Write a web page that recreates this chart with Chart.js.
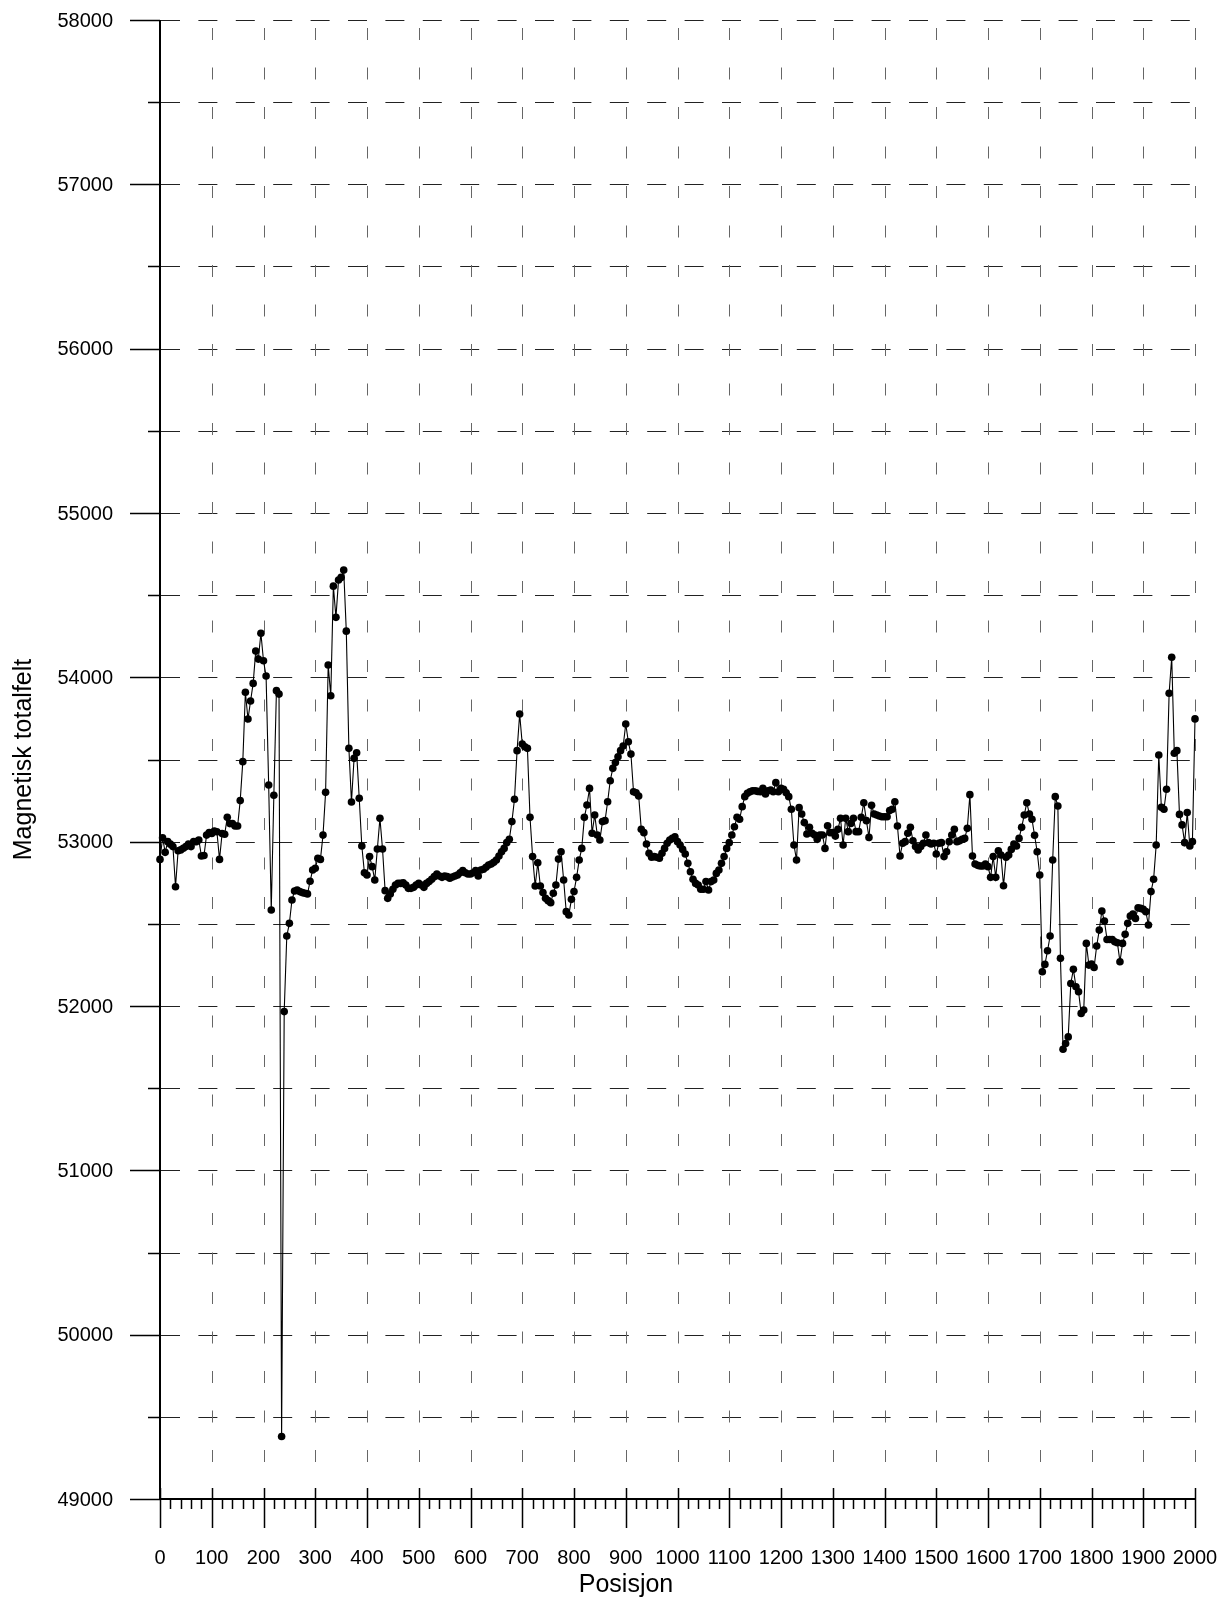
<!DOCTYPE html>
<html>
<head>
<meta charset="utf-8">
<title>Magnetisk totalfelt</title>
<script src="https://cdn.jsdelivr.net/npm/chart.js@4.4.1/dist/chart.umd.min.js"></script>
<style>
  html, body { margin: 0; padding: 0; background: #fff; }
  canvas { display: block; }
</style>
</head>
<body>
<canvas id="magChart" width="1230" height="1601"></canvas>
<script>
// Measurement positions (m)
const posisjon = [
  0, 5, 10, 15, 20, 25, 30, 35, 40, 45, 50, 55, 60, 65, 70, 75, 80, 85, 90, 95,
  100, 105, 110, 115, 120, 125, 130, 135, 140, 145, 150, 155, 160, 165, 170, 175, 180, 185, 190, 195,
  200, 205, 210, 215, 220, 225, 230, 235, 240, 245, 250, 255, 260, 265, 270, 275, 280, 285, 290, 295,
  300, 305, 310, 315, 320, 325, 330, 335, 340, 345, 350, 355, 360, 365, 370, 375, 380, 385, 390, 395,
  400, 405, 410, 415, 420, 425, 430, 435, 440, 445, 450, 455, 460, 465, 470, 475, 480, 485, 490, 495,
  500, 505, 510, 515, 520, 525, 530, 535, 540, 545, 550, 555, 560, 565, 570, 575, 580, 585, 590, 595,
  600, 605, 610, 615, 620, 625, 630, 635, 640, 645, 650, 655, 660, 665, 670, 675, 680, 685, 690, 695,
  700, 705, 710, 715, 720, 725, 730, 735, 740, 745, 750, 755, 760, 765, 770, 775, 780, 785, 790, 795,
  800, 805, 810, 815, 820, 825, 830, 835, 840, 845, 850, 855, 860, 865, 870, 875, 880, 885, 890, 895,
  900, 905, 910, 915, 920, 925, 930, 935, 940, 945, 950, 955, 960, 965, 970, 975, 980, 985, 990, 995,
  1000, 1005, 1010, 1015, 1020, 1025, 1030, 1035, 1040, 1045, 1050, 1055, 1060, 1065, 1070, 1075, 1080, 1085, 1090, 1095,
  1100, 1105, 1110, 1115, 1120, 1125, 1130, 1135, 1140, 1145, 1150, 1155, 1160, 1165, 1170, 1175, 1180, 1185, 1190, 1195,
  1200, 1205, 1210, 1215, 1220, 1225, 1230, 1235, 1240, 1245, 1250, 1255, 1260, 1265, 1270, 1275, 1280, 1285, 1290, 1295,
  1300, 1305, 1310, 1315, 1320, 1325, 1330, 1335, 1340, 1345, 1350, 1355, 1360, 1365, 1370, 1375, 1380, 1385, 1390, 1395,
  1400, 1405, 1410, 1415, 1420, 1425, 1430, 1435, 1440, 1445, 1450, 1455, 1460, 1465, 1470, 1475, 1480, 1485, 1490, 1495,
  1500, 1505, 1510, 1515, 1520, 1525, 1530, 1535, 1540, 1545, 1550, 1555, 1560, 1565, 1570, 1575, 1580, 1585, 1590, 1595,
  1600, 1605, 1610, 1615, 1620, 1625, 1630, 1635, 1640, 1645, 1650, 1655, 1660, 1665, 1670, 1675, 1680, 1685, 1690, 1695,
  1700, 1705, 1710, 1715, 1720, 1725, 1730, 1735, 1740, 1745, 1750, 1755, 1760, 1765, 1770, 1775, 1780, 1785, 1790, 1795,
  1800, 1805, 1810, 1815, 1820, 1825, 1830, 1835, 1840, 1845, 1850, 1855, 1860, 1865, 1870, 1875, 1880, 1885, 1890, 1895,
  1900, 1905, 1910, 1915, 1920, 1925, 1930, 1935, 1940, 1945, 1950, 1955, 1960, 1965, 1970, 1975, 1980, 1985, 1990, 1995,
  2000
];

// Total magnetic field (nT)
const totalfelt = [
  52892, 53024, 52935, 53000, 52985, 52970, 52726, 52945, 52950, 52960,
  52970, 52985, 52970, 53000, 53000, 53010, 52913, 52916, 53040, 53055,
  53050, 53065, 53060, 52892, 53050, 53045, 53148, 53110, 53110, 53095,
  53095, 53250, 53487, 53909, 53746, 53856, 53963, 54160, 54111, 54268,
  54101, 54008, 53345, 52584, 53282, 53919, 53898, 49380, 51966, 52426,
  52503, 52645, 52700, 52706, 52696, 52690, 52686, 52682, 52759, 52828,
  52838, 52899, 52892, 53040, 53300, 54075, 53888, 54555, 54365, 54592,
  54608, 54653, 54281, 53568, 53241, 53507, 53541, 53264, 52974, 52811,
  52797, 52909, 52848, 52767, 52955, 53142, 52955, 52702, 52655, 52682,
  52710, 52736, 52746, 52746, 52750, 52736, 52716, 52716, 52722, 52736,
  52746, 52736, 52722, 52746, 52757, 52771, 52787, 52803, 52791, 52783,
  52791, 52787, 52777, 52785, 52791, 52797, 52811, 52824, 52811, 52803,
  52803, 52811, 52824, 52791, 52828, 52832, 52844, 52858, 52864, 52874,
  52888, 52913, 52939, 52959, 52994, 53014, 53122, 53258, 53554, 53777,
  53594, 53578, 53568, 53148, 52909, 52730, 52872, 52730, 52690, 52655,
  52641, 52629, 52686, 52736, 52894, 52939, 52767, 52574, 52554, 52649,
  52696, 52783, 52888, 52959, 53148, 53223, 53324, 53051, 53162, 53041,
  53010, 53122, 53128, 53243, 53371, 53446, 53481, 53517, 53554, 53582,
  53716, 53608, 53533, 53304, 53298, 53278, 53075, 53055, 52986, 52929,
  52905, 52909, 52905, 52899, 52929, 52959, 52990, 53010, 53020, 53030,
  53000, 52980, 52953, 52925, 52868, 52817, 52771, 52746, 52736, 52710,
  52710, 52757, 52706, 52757, 52767, 52807, 52828, 52868, 52909, 52959,
  52994, 53041, 53091, 53148, 53136, 53213, 53274, 53294, 53304, 53310,
  53310, 53306, 53304, 53324, 53290, 53310, 53314, 53304, 53359, 53304,
  53324, 53318, 53298, 53274, 53197, 52980, 52888, 53207, 53168, 53116,
  53047, 53087, 53051, 53041, 53014, 53041, 53041, 52959, 53097, 53055,
  53055, 53034, 53075, 53142, 52980, 53142, 53061, 53111, 53142, 53061,
  53061, 53148, 53237, 53128, 53026, 53221, 53168, 53162, 53156, 53152,
  53152, 53152, 53189, 53197, 53243, 53095, 52913, 52990, 53000, 53051,
  53087, 53006, 52970, 52949, 52970, 52990, 53041, 52994, 52986, 52990,
  52925, 52990, 52994, 52909, 52939, 53000, 53041, 53075, 53000, 53005,
  53014, 53020, 53081, 53286, 52913, 52864, 52856, 52852, 52852, 52864,
  52848, 52783, 52909, 52783, 52945, 52919, 52732, 52905, 52919, 52953,
  52986, 52974, 53020, 53087, 53162, 53237, 53168, 53136, 53039, 52939,
  52797, 52208, 52253, 52336, 52426, 52888, 53274, 53217, 52290, 51737,
  51772, 51812, 52137, 52223, 52117, 52087, 51955, 51975, 52381, 52249,
  52255, 52235, 52365, 52462, 52578, 52517, 52405, 52405, 52405, 52391,
  52385, 52269, 52381, 52436, 52503, 52547, 52559, 52533, 52598, 52594,
  52588, 52574, 52493, 52696, 52771, 52980, 53527, 53209, 53197, 53319,
  53903, 54122, 53538, 53554, 53166, 53102, 52994, 53177, 52974, 53000,
  53747
];

// Axis ticks
const xLabels = [0, 100, 200, 300, 400, 500, 600, 700, 800, 900, 1000,
  1100, 1200, 1300, 1400, 1500, 1600, 1700, 1800, 1900, 2000];
const xMinor = [];
for (let v = 0; v <= 2000; v += 20) xMinor.push(v);
const yLabels = [49000, 50000, 51000, 52000, 53000, 54000, 55000, 56000, 57000, 58000];
const yMinor = [49500, 50500, 51500, 52500, 53500, 54500, 55500, 56500, 57500];

const FONT = '"Liberation Sans", Arial, Helvetica, sans-serif';

// Grid, axes, ticks and labels drawn from the chart scales
const axesPlugin = {
  id: "axesPlugin",
  beforeDatasetsDraw(chart) {
    const { ctx, scales: { x, y } } = chart;
    const left = x.getPixelForValue(0);
    const right = x.getPixelForValue(2000);
    const top = y.getPixelForValue(58000);
    const bottom = y.getPixelForValue(49000);
    ctx.save();
    ctx.lineWidth = 1;

    // horizontal dashed grid every 500
    ctx.strokeStyle = "#222";
    ctx.setLineDash([19, 18.4]);
    yLabels.concat(yMinor).forEach(v => {
      if (v === 49000) return;
      const py = Math.round(y.getPixelForValue(v)) + 0.5;
      ctx.beginPath();
      ctx.moveTo(left + 1, py);
      ctx.lineTo(right, py);
      ctx.stroke();
    });

    // vertical dashed grid every 100
    ctx.strokeStyle = "#666";
    ctx.setLineDash([12, 27.5]);
    xLabels.forEach(v => {
      if (v === 0) return;
      const px = Math.round(x.getPixelForValue(v)) + 0.5;
      ctx.beginPath();
      ctx.moveTo(px, top + 8);
      ctx.lineTo(px, bottom);
      ctx.stroke();
    });
    ctx.setLineDash([]);

    // axis lines
    ctx.strokeStyle = "#000";
    ctx.lineWidth = 2;
    ctx.beginPath();
    ctx.moveTo(Math.round(left), top);
    ctx.lineTo(Math.round(left), bottom);
    ctx.moveTo(left, Math.round(bottom));
    ctx.lineTo(right, Math.round(bottom));
    ctx.stroke();

    // y ticks
    ctx.lineWidth = 1.5;
    ctx.beginPath();
    yLabels.forEach(v => {
      const py = Math.round(y.getPixelForValue(v)) + 0.5;
      ctx.moveTo(left - 30, py);
      ctx.lineTo(left, py);
    });
    yMinor.forEach(v => {
      const py = Math.round(y.getPixelForValue(v)) + 0.5;
      ctx.moveTo(left - 12, py);
      ctx.lineTo(left, py);
    });
    // x ticks
    xMinor.forEach(v => {
      const px = Math.round(x.getPixelForValue(v)) + 0.5;
      ctx.moveTo(px, bottom);
      ctx.lineTo(px, bottom + 10);
    });
    xLabels.forEach(v => {
      const px = Math.round(x.getPixelForValue(v)) + 0.5;
      ctx.moveTo(px, bottom - 11);
      ctx.lineTo(px, bottom + 29);
    });
    ctx.stroke();

    // tick labels
    ctx.fillStyle = "#000";
    ctx.font = "20px " + FONT;
    ctx.textAlign = "right";
    ctx.textBaseline = "middle";
    yLabels.forEach(v => {
      ctx.fillText(String(v), left - 47, y.getPixelForValue(v) + 1);
    });
    ctx.textAlign = "center";
    xLabels.forEach(v => {
      ctx.fillText(String(v), x.getPixelForValue(v), bottom + 59);
    });

    // axis titles
    ctx.font = "25px " + FONT;
    ctx.fillText("Posisjon", 626, 1585);
    ctx.translate(24, (top + bottom) / 2);
    ctx.rotate(-Math.PI / 2);
    ctx.fillText("Magnetisk totalfelt", 0, 0);
    ctx.restore();
  }
};

const points = posisjon.map((p, i) => ({ x: p, y: totalfelt[i] }));

new Chart(document.getElementById("magChart"), {
  type: "line",
  data: {
    datasets: [{
      label: "Magnetisk totalfelt",
      data: points,
      borderColor: "#000",
      borderWidth: 1.1,
      pointRadius: 3.8,
      pointBackgroundColor: "#000",
      pointBorderWidth: 0,
      tension: 0,
      clip: false
    }]
  },
  options: {
    responsive: false,
    devicePixelRatio: 1,
    animation: false,
    events: [],
    layout: { padding: { left: 160, right: 35, top: 20, bottom: 102 } },
    scales: {
      x: { type: "linear", min: 0, max: 2000, display: false },
      y: { type: "linear", min: 49000, max: 58000, display: false }
    },
    plugins: { legend: { display: false }, tooltip: { enabled: false } }
  },
  plugins: [axesPlugin]
});
</script>
</body>
</html>
